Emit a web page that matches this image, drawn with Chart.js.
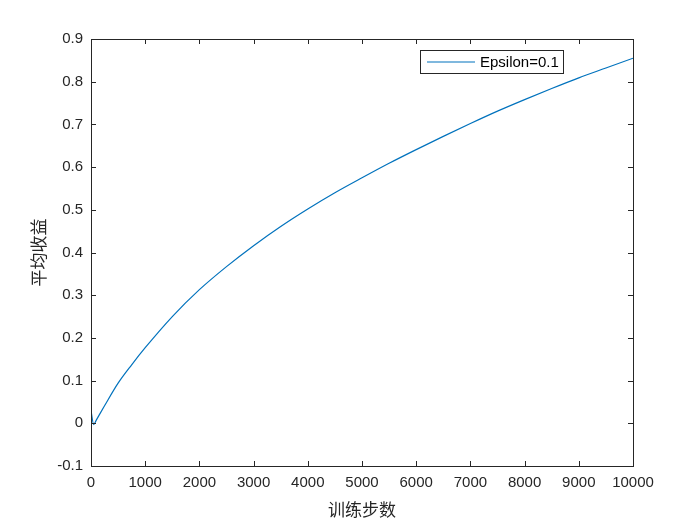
<!DOCTYPE html>
<html>
<head>
<meta charset="utf-8">
<script src="https://cdn.jsdelivr.net/npm/chart.js@4/dist/chart.umd.min.js"></script>
<style>
  html, body { margin: 0; padding: 0; background: #fff; }
  #c { display: block; }
</style>
</head>
<body>
<canvas id="c" width="700" height="525"></canvas>
<script>
// training steps and average reward
var steps = [0, 50, 100, 250, 500, 750, 1000, 1500, 2000, 2500, 3000, 3500, 4000,
             4500, 5000, 5500, 6000, 6500, 7000, 7500, 8000, 8500, 9000, 9500, 10000];
var avgReward = [0.03, -0.003, 0.008, 0.041, 0.094, 0.137, 0.177, 0.250, 0.313, 0.367, 0.416, 0.461, 0.502,
                 0.540, 0.575, 0.609, 0.641, 0.672, 0.702, 0.731, 0.758, 0.784, 0.809, 0.832, 0.855];
var seriesLabel = "Epsilon=0.1";
var xTitle = "训练步数";
var yTitle = "平均收益";

var axisColor = "#262626";
var lineColor = "#0072BD";

var points = [];
for (var i = 0; i < steps.length; i++) {
  points.push({x: steps[i], y: avgReward[i]});
}

// box around plot, inward ticks on all sides, legend box
var matlabBox = {
  id: 'matlabBox',
  afterDraw: function(chart) {
    var ctx = chart.ctx;
    var a = chart.chartArea;
    var xs = chart.scales.x, ys = chart.scales.y;
    var tl = 5;
    ctx.save();
    ctx.strokeStyle = axisColor;
    ctx.lineWidth = 1;
    ctx.strokeRect(a.left + 0.5, a.top + 0.5, a.right - a.left, a.bottom - a.top);
    ctx.beginPath();
    xs.ticks.forEach(function(t) {
      var px = Math.round(xs.getPixelForValue(t.value)) + 0.5;
      ctx.moveTo(px, a.bottom); ctx.lineTo(px, a.bottom - tl);
      ctx.moveTo(px, a.top); ctx.lineTo(px, a.top + tl);
    });
    ys.ticks.forEach(function(t) {
      var py = Math.round(ys.getPixelForValue(t.value)) + 0.5;
      ctx.moveTo(a.left, py); ctx.lineTo(a.left + tl, py);
      ctx.moveTo(a.right, py); ctx.lineTo(a.right - tl, py);
    });
    ctx.stroke();

    // legend
    var lx = 420, ly = 50, lw = 143, lh = 23;
    ctx.fillStyle = "#fff";
    ctx.fillRect(lx, ly, lw, lh);
    ctx.strokeStyle = axisColor;
    ctx.strokeRect(lx + 0.5, ly + 0.5, lw, lh);
    ctx.strokeStyle = lineColor;
    ctx.lineWidth = 1.2;
    ctx.beginPath();
    ctx.moveTo(427, ly + lh / 2 + 0.5);
    ctx.lineTo(475, ly + lh / 2 + 0.5);
    ctx.stroke();
    ctx.fillStyle = "#000";
    ctx.font = "15px 'Liberation Sans', Arial, sans-serif";
    ctx.textBaseline = "middle";
    ctx.fillText(chart.data.datasets[0].label, 480, ly + lh / 2 + 1);
    ctx.restore();
  }
};

var ctx = document.getElementById("c");
var myChart = new Chart(ctx, {
  type: 'line',
  data: {
    datasets: [{
      label: seriesLabel,
      data: points,
      borderColor: lineColor,
      borderWidth: 1.2,
      pointRadius: 0,
      fill: false,
      cubicInterpolationMode: 'monotone'
    }]
  },
  options: {
    responsive: false,
    animation: false,
    layout: { padding: { top: 39, right: 67, left: 0, bottom: 0 } },
    plugins: {
      legend: { display: false },
      tooltip: { enabled: false }
    },
    scales: {
      x: {
        type: 'linear',
        min: 0,
        max: 10000,
        grid: { display: false, drawTicks: false },
        border: { display: false },
        ticks: {
          stepSize: 1000,
          color: axisColor,
          padding: 8,
          maxRotation: 0,
          font: { family: "'Liberation Sans', Arial, sans-serif", size: 15 },
          callback: function(v) { return String(Math.round(v)); }
        },
        title: {
          display: true,
          text: xTitle,
          color: axisColor,
          padding: { top: 0, bottom: 5 },
          font: { family: "'Noto Sans CJK SC', sans-serif", size: 17 }
        },
        afterFit: function(scale) { scale.height = 59; }
      },
      y: {
        type: 'linear',
        min: -0.1,
        max: 0.9,
        grid: { display: false, drawTicks: false },
        border: { display: false },
        ticks: {
          stepSize: 0.1,
          color: axisColor,
          padding: 8,
          font: { family: "'Liberation Sans', Arial, sans-serif", size: 15 },
          callback: function(v) {
            var r = Math.round(v * 10) / 10;
            return r === 0 ? "0" : r.toFixed(1);
          }
        },
        title: {
          display: true,
          text: yTitle,
          color: axisColor,
          padding: { top: 28, bottom: 0 },
          font: { family: "'Noto Sans CJK SC', sans-serif", size: 17 }
        },
        afterFit: function(scale) { scale.width = 91; }
      }
    }
  },
  plugins: [matlabBox]
});
</script>
</body>
</html>
